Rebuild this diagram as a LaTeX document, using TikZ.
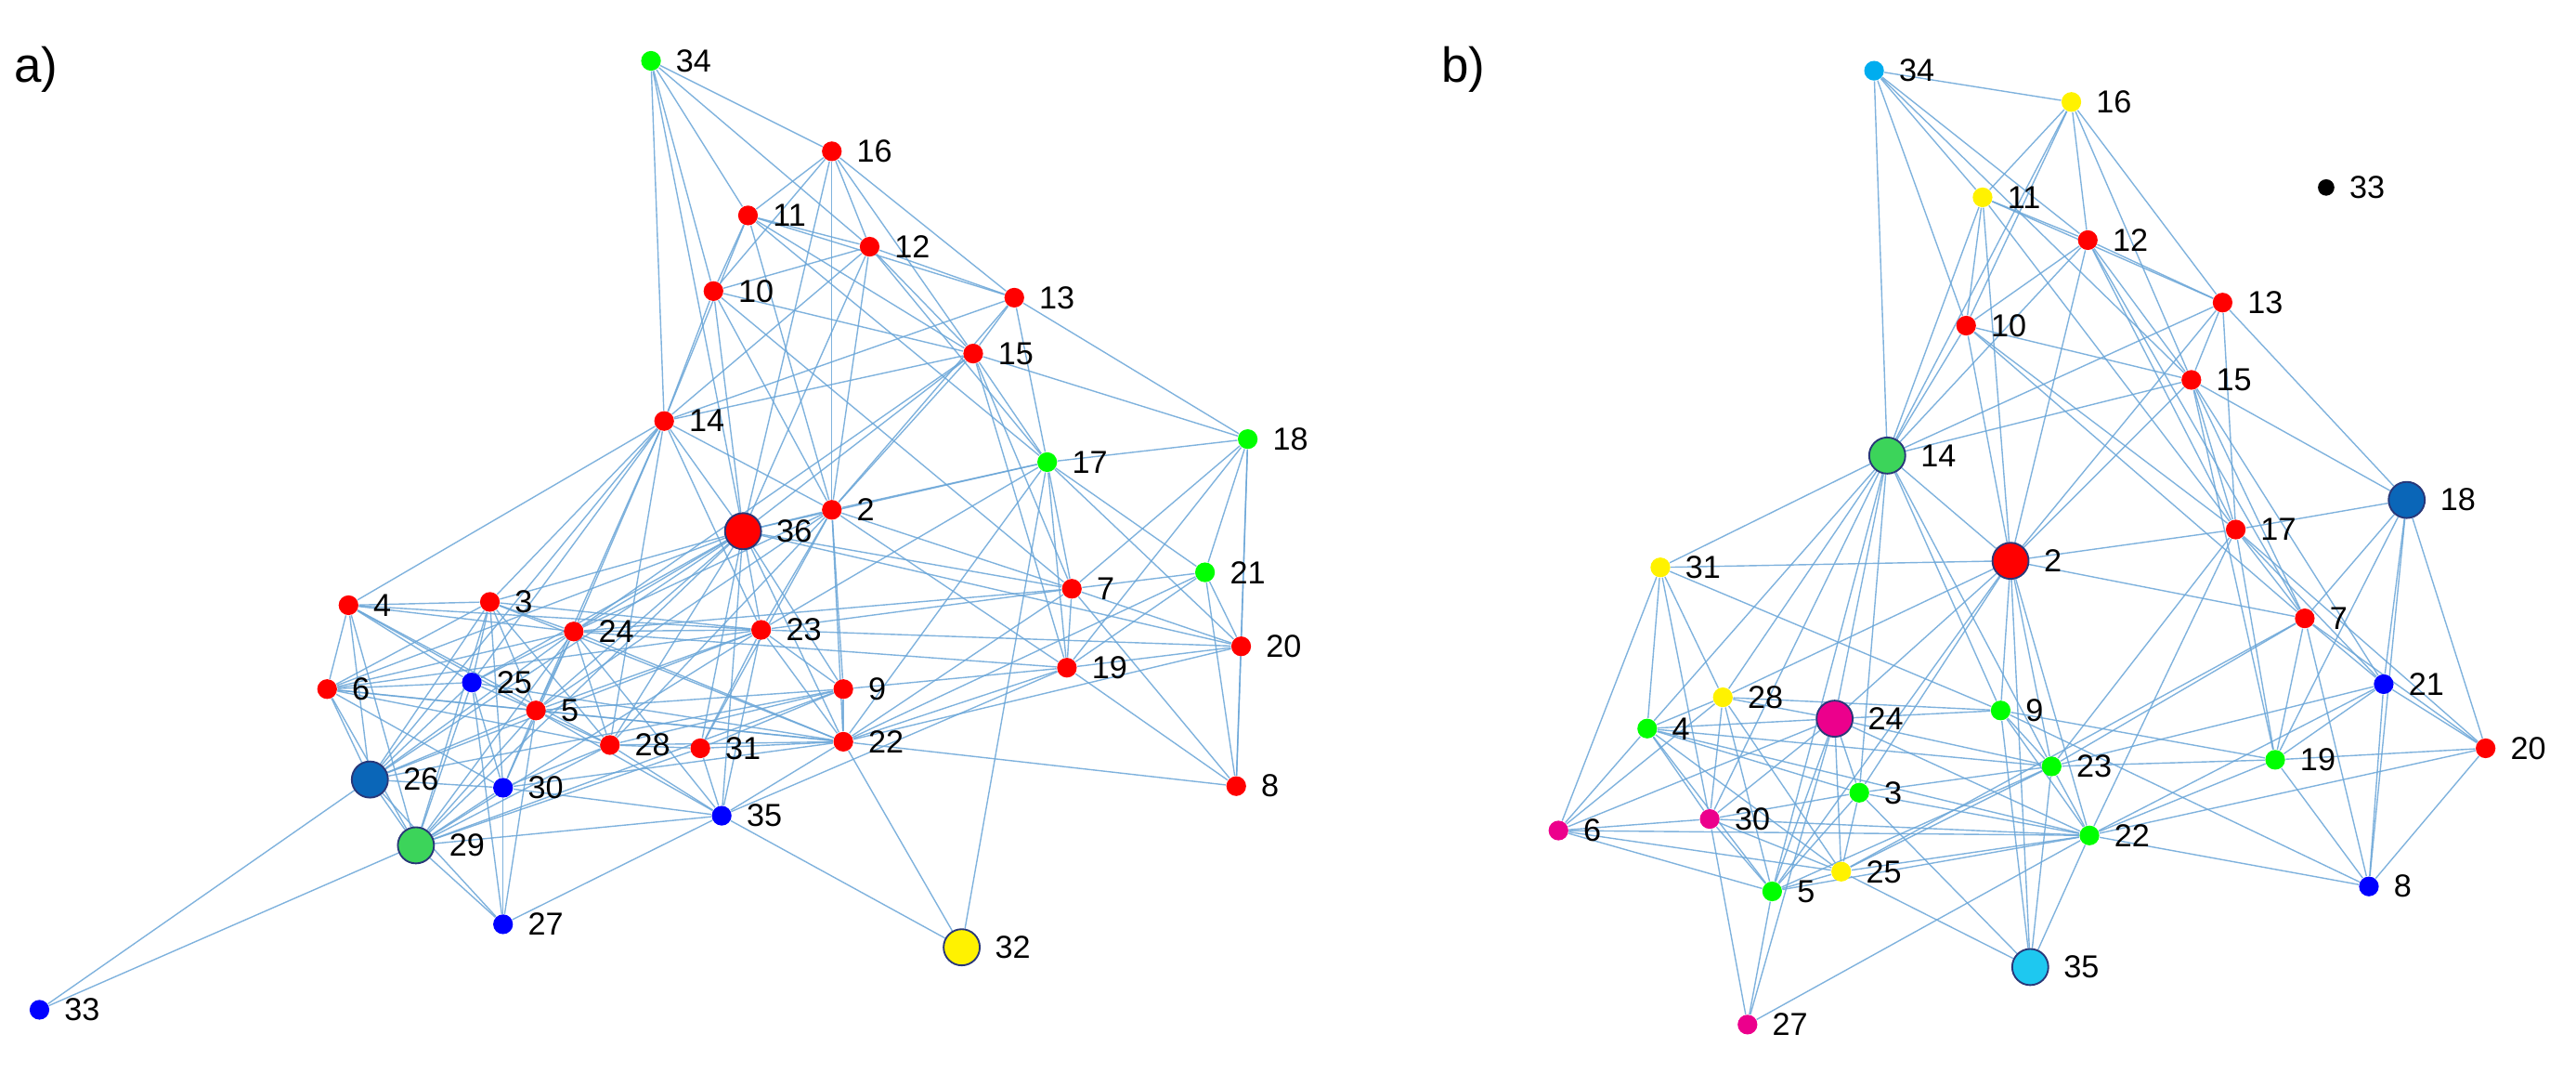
\documentclass[tikz,border=0pt]{standalone}
\usepackage{fontspec}
\setmainfont{Liberation Sans}
\usetikzlibrary{backgrounds}
\definecolor{edgec}{RGB}{105,165,215}
\definecolor{dkb}{RGB}{10,102,184}
\definecolor{mgr}{RGB}{60,212,90}
\definecolor{bord}{RGB}{40,55,120}
\definecolor{cy}{RGB}{30,200,240}
\tikzset{
 nd/.style={circle,inner sep=0pt,minimum size=0.24cm,draw=none},
 big/.style={circle,inner sep=0pt,minimum size=0.44cm,draw=bord,line width=0.6pt},
 lab/.style={font=\fontsize{11}{12}\selectfont,label distance=1.5pt},
 edge/.style={draw=edgec,line width=0.45pt,opacity=0.85},
}
\newcommand\N[5]{\node[#4,label={[lab]right:#5}] (#1) at (#2,#3) {};}
\begin{document}
\begin{tikzpicture}[x=0.02cm,y=-0.02cm]
\useasboundingbox (0,0) rectangle (1567,652);
\node[font=\fontsize{17}{18}\selectfont] at (22,42) {a)};
\node[font=\fontsize{17}{18}\selectfont] at (890,42) {b)};
% ---- panel a
\N{a34}{396}{37}{nd,fill=green}{34}
\N{a16}{506}{92}{nd,fill=red}{16}
\N{a11}{455}{131}{nd,fill=red}{11}
\N{a12}{529}{150}{nd,fill=red}{12}
\N{a10}{434}{177}{nd,fill=red}{10}
\N{a13}{617}{181}{nd,fill=red}{13}
\N{a15}{592}{215}{nd,fill=red}{15}
\N{a14}{404}{256}{nd,fill=red}{14}
\N{a17}{637}{281}{nd,fill=green}{17}
\N{a18}{759}{267}{nd,fill=green}{18}
\N{a2}{506}{310}{nd,fill=red}{2}
\N{a36}{452}{323}{big,fill=red}{36}
\N{a7}{652}{358}{nd,fill=red}{7}
\N{a21}{733}{348}{nd,fill=green}{21}
\N{a4}{212}{368}{nd,fill=red}{4}
\N{a3}{298}{366}{nd,fill=red}{3}
\N{a24}{349}{384}{nd,fill=red}{24}
\N{a23}{463}{383}{nd,fill=red}{23}
\N{a20}{755}{393}{nd,fill=red}{20}
\N{a19}{649}{406}{nd,fill=red}{19}
\N{a6}{199}{419}{nd,fill=red}{6}
\N{a25}{287}{415}{nd,fill=blue}{25}
\N{a9}{513}{419}{nd,fill=red}{9}
\N{a5}{326}{432}{nd,fill=red}{5}
\N{a28}{371}{453}{nd,fill=red}{28}
\N{a31}{426}{455}{nd,fill=red}{31}
\N{a22}{513}{451}{nd,fill=red}{22}
\N{a26}{225}{474}{big,fill=dkb}{26}
\N{a30}{306}{479}{nd,fill=blue}{30}
\N{a8}{752}{478}{nd,fill=red}{8}
\N{a35}{439}{496}{nd,fill=blue}{35}
\N{a29}{253}{514}{big,fill=mgr}{29}
\N{a27}{306}{562}{nd,fill=blue}{27}
\N{a32}{585}{576}{big,fill=yellow}{32}
\N{a33}{24}{614}{nd,fill=blue}{33}
% ---- panel b
\N{b34}{1140}{43}{nd,fill=cyan}{34}
\N{b16}{1260}{62}{nd,fill=yellow}{16}
\N{b33}{1415}{114}{nd,fill=black,minimum size=0.2cm}{33}
\N{b11}{1206}{120}{nd,fill=yellow}{11}
\N{b12}{1270}{146}{nd,fill=red}{12}
\N{b13}{1352}{184}{nd,fill=red}{13}
\N{b10}{1196}{198}{nd,fill=red}{10}
\N{b15}{1333}{231}{nd,fill=red}{15}
\N{b14}{1148}{277}{big,fill=mgr}{14}
\N{b18}{1464}{304}{big,fill=dkb}{18}
\N{b17}{1360}{322}{nd,fill=red}{17}
\N{b2}{1223}{341}{big,fill=red}{2}
\N{b31}{1010}{345}{nd,fill=yellow}{31}
\N{b7}{1402}{376}{nd,fill=red}{7}
\N{b21}{1450}{416}{nd,fill=blue}{21}
\N{b28}{1048}{424}{nd,fill=yellow}{28}
\N{b24}{1116}{437}{big,fill=magenta}{24}
\N{b9}{1217}{432}{nd,fill=green}{9}
\N{b4}{1002}{443}{nd,fill=green}{4}
\N{b20}{1512}{455}{nd,fill=red}{20}
\N{b19}{1384}{462}{nd,fill=green}{19}
\N{b23}{1248}{466}{nd,fill=green}{23}
\N{b3}{1131}{482}{nd,fill=green}{3}
\N{b30}{1040}{498}{nd,fill=magenta}{30}
\N{b6}{948}{505}{nd,fill=magenta}{6}
\N{b22}{1271}{508}{nd,fill=green}{22}
\N{b25}{1120}{530}{nd,fill=yellow}{25}
\N{b5}{1078}{542}{nd,fill=green}{5}
\N{b8}{1441}{539}{nd,fill=blue}{8}
\N{b35}{1235}{588}{big,fill=cy}{35}
\N{b27}{1063}{623}{nd,fill=magenta}{27}
\begin{pgfonlayer}{background}
\foreach \u/\v in {34/16,34/11,34/12,34/14,34/10,34/36,
16/11,16/10,16/12,16/15,16/13,16/36,16/2,
11/12,11/13,11/10,11/14,11/15,11/17,11/2,
12/10,12/13,12/15,12/14,12/36,12/17,12/2,
10/15,10/14,10/36,10/7,10/2,
13/15,13/14,13/18,13/17,13/2,
15/14,15/17,15/18,15/36,15/2,15/19,15/7,15/24,
14/36,14/2,14/4,14/3,14/24,14/23,14/5,14/28,14/26,14/25,
17/18,17/2,17/36,17/7,17/19,17/21,17/20,17/22,17/23,
18/21,18/20,18/7,18/19,18/8,
2/36,2/7,2/9,2/23,2/24,2/22,2/19,2/5,2/31,2/28,
36/3,36/24,36/23,36/7,36/9,36/22,36/5,36/25,36/6,36/26,36/28,36/31,36/35,36/29,36/20,
7/21,7/23,7/19,7/8,7/20,7/22,7/24,
21/20,21/8,21/19,21/22,
4/3,4/24,4/23,4/6,4/26,4/25,4/5,4/28,4/29,
3/24,3/23,3/6,3/25,3/5,3/26,3/29,3/30,3/28,3/22,
24/23,24/6,24/25,24/5,24/26,24/29,24/30,24/28,24/22,24/35,24/19,
23/9,23/22,23/6,23/5,23/29,23/26,23/31,23/20,23/35,
6/25,6/5,6/26,6/29,6/28,6/22,6/30,
25/5,25/26,25/29,25/30,25/27,25/22,
5/28,5/26,5/29,5/30,5/27,5/22,5/35,5/9,
28/31,28/22,28/29,28/30,28/35,28/9,
31/22,31/35,31/29,31/9,
9/22,9/19,9/29,9/26,
22/8,22/19,22/20,22/35,22/30,
19/20,19/8,19/35,
26/29,26/30,26/33,26/27,
29/30,29/27,29/33,29/35,
30/27,30/35,35/32,35/27,32/22,32/17,20/8}
  \draw[edge] (a\u) -- (a\v);
\foreach \u/\v in {34/16,34/14,34/11,34/12,34/10,34/15,
16/11,16/12,16/13,16/14,16/10,16/15,
11/12,11/13,11/10,11/14,11/2,11/17,
12/13,12/10,12/14,12/15,12/17,12/7,12/2,
13/15,13/14,13/18,13/17,13/2,
10/15,10/14,10/2,10/7,10/17,
15/14,15/17,15/7,15/18,15/21,15/19,15/2,
14/2,14/31,14/24,14/28,14/4,14/30,14/3,14/9,14/5,14/23,
18/17,18/7,18/21,18/20,18/19,18/8,
17/2,17/7,17/21,17/23,17/22,17/19,17/20,
2/31,2/7,2/24,2/9,2/23,2/22,2/3,2/28,2/35,2/5,
31/4,31/28,31/6,31/9,31/30,
7/21,7/19,7/23,7/20,7/8,7/25,
21/20,21/19,21/23,21/8,21/22,
28/24,28/9,28/4,28/30,28/5,28/25,28/6,
24/9,24/4,24/23,24/3,24/30,24/6,24/25,24/5,24/22,24/27,
9/23,9/22,9/19,9/35,9/8,
4/6,4/30,4/5,4/23,4/22,4/25,4/3,
20/19,20/22,20/8,
19/23,19/8,19/22,
23/3,23/22,23/5,23/25,23/35,
3/30,3/22,3/25,3/5,3/35,
30/6,30/22,30/5,30/25,30/27,
6/5,6/25,6/22,
22/25,22/5,22/35,22/8,22/27,
25/5,25/35,5/27}
  \draw[edge] (b\u) -- (b\v);
\end{pgfonlayer}
\end{tikzpicture}
\end{document}
